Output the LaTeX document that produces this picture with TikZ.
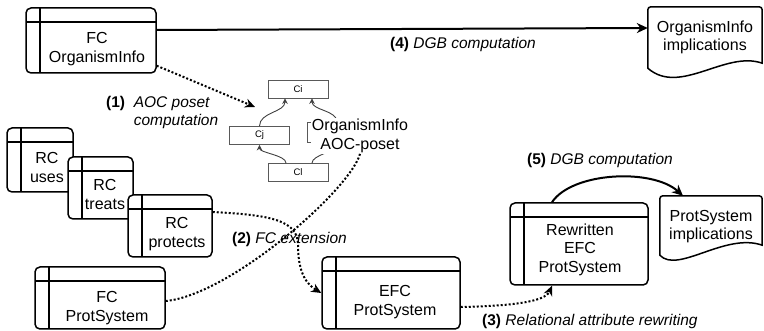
\documentclass[tikz,border=0pt]{standalone}
\usepackage{fontspec}
\setmainfont{Liberation Sans}
\usetikzlibrary{arrows.meta}
\begin{document}
\begin{tikzpicture}[x=1pt,y=-1pt,
  every node/.style={font=\fontsize{16}{18.5}\selectfont},
  store/.style={draw, line width=1.5pt, rounded corners=5pt, fill=white, inner sep=0pt,
    path picture={
      \draw[line width=1.5pt] ([yshift=-14pt]path picture bounding box.north west) -- ([yshift=-14pt]path picture bounding box.north east);
      \draw[line width=1.5pt] ([xshift=14pt]path picture bounding box.north west) -- ([xshift=14pt]path picture bounding box.south west);
    }},
  boxtxt/.style={align=center, inner sep=0pt},
  docnode/.style={align=center, inner sep=0pt},
  docshape/.style={draw, line width=1.5pt},
  cbox/.style={draw=black!65, line width=0.9pt, fill=white, minimum width=60pt, minimum height=18pt, inner sep=0pt, font=\fontsize{9.5}{10}\selectfont},
  pedge/.style={draw=black!75, line width=0.9pt, -{Stealth[length=5.5pt,width=5.5pt]}},
  dotline/.style={line width=2pt, dash pattern=on 2pt off 2pt},
  dotarrow/.style={dotline, -{Stealth[length=10pt,width=9pt]}},
  solidarrow/.style={line width=2pt, -{Stealth[length=11pt,width=10pt]}},
  lbl/.style={font=\fontsize{15.5}{18}\selectfont, inner sep=0pt}
]
\useasboundingbox (0,0) rectangle (764,331);

% storage boxes
\node[store, minimum width=130pt, minimum height=65pt] (fcoi) at (91,40.5) {};
\node[boxtxt] (fcoit) at ([xshift=6pt,yshift=-8.5pt]fcoi.center) {FC\\OrganismInfo};

\node[store, minimum width=66pt, minimum height=64pt] (rcu) at (40,160) {};
\node[boxtxt] (rcut) at ([xshift=7pt,yshift=-7.5pt]rcu.center) {RC\\uses};

\node[store, minimum width=65pt, minimum height=62pt] (rct) at (100.5,188) {};
\node[boxtxt] (rctt) at ([xshift=4.5pt,yshift=-6.5pt]rct.center) {RC\\treats};

\node[store, minimum width=84pt, minimum height=62pt] (rcp) at (170,226) {};
\node[boxtxt] (rcpt) at ([xshift=7pt,yshift=-8pt]rcp.center) {RC\\protects};

\node[store, minimum width=130pt, minimum height=62pt] (fcp) at (100,298) {};
\node[boxtxt] (fcpt) at ([xshift=7pt,yshift=-10pt]fcp.center) {FC\\ProtSystem};

\node[store, minimum width=138pt, minimum height=72pt] (efc) at (391,293) {};
\node[boxtxt] (efct) at ([xshift=4pt,yshift=-9pt]efc.center) {EFC\\ProtSystem};

\node[store, minimum width=138pt, minimum height=82pt] (rew) at (579,244) {};
\node[boxtxt] (rewt) at ([xshift=1pt,yshift=-5.5pt]rew.center) {Rewritten\\EFC\\ProtSystem};

% document shapes
\node[docnode, minimum width=114pt, minimum height=61pt] (oiimp) at (705,37.5) {OrganismInfo\\implications};
\draw[docshape] (oiimp.south west) [rounded corners=3pt] -- (oiimp.north west) -- (oiimp.north east) [sharp corners] -- ([yshift=5pt]oiimp.south east)
  .. controls ([xshift=-37pt,yshift=18pt]oiimp.south east) and ([xshift=32pt,yshift=-28pt]oiimp.south west) .. (oiimp.south west) -- cycle;

\node[docnode, minimum width=102pt, minimum height=61pt] (psimp) at (711,226.5) {ProtSystem\\implications};
\draw[docshape] ([yshift=2pt]psimp.south west) [rounded corners=3pt] -- (psimp.north west) -- (psimp.north east) [sharp corners] -- ([yshift=12pt]psimp.south east)
  .. controls ([xshift=-37pt,yshift=25pt]psimp.south east) and ([xshift=18pt,yshift=-17pt]psimp.south west) .. ([yshift=2pt]psimp.south west) -- cycle;

% AOC poset
\node[cbox] (ci) at (298,89) {Ci};
\node[cbox] (cj) at (259.5,135.5) {Cj};
\node[cbox] (cl) at (298,172.5) {Cl};
\node[cbox, minimum height=20pt] (ck) at (337,132.5) {};
\draw[pedge] (cj.north) .. controls +(0,-14) and +(0,14) .. ([xshift=-13pt]ci.south);
\draw[pedge] (ck.north) .. controls +(0,-12) and +(0,12) .. ([xshift=14pt]ci.south);
\draw[pedge] ([xshift=-12pt]cl.north) .. controls +(0,-8) and +(0,8) .. (cj.south);
\draw[pedge] ([xshift=14pt]cl.north) .. controls +(0,-8) and +(0,8) .. (ck.south);
\node[fill=white, align=center, inner sep=1pt] (aoclbl) at (360,136) {OrganismInfo\\AOC-poset};

% connectors
\coordinate (aoctip) at (255,107);
\draw[dotarrow] ([yshift=8pt]fcoi.south east) -- (aoctip);
\draw[solidarrow] ([yshift=10.5pt]fcoi.east) -- ([yshift=9.5pt]oiimp.west);
\draw[dotarrow] ([yshift=14pt]rcp.east) .. controls (270,215) and (298,220) .. (298,245)
  .. controls (298,275) and (308,285) .. (efc.west);
\draw[dotline] ([yshift=-3pt]fcp.east) .. controls (230,295) and (350,190) .. (aoclbl.south);
\draw[dotarrow] ([yshift=-14pt]efc.east) .. controls (510,306) and (545,302) .. ([xshift=-27pt]rew.south);
\draw[solidarrow] ([xshift=-27pt]rew.north) .. controls (572,172) and (652,168) .. ([xshift=-28pt]psimp.north);

% labels
\node[lbl, anchor=base west] (l4) at (390,48.5) {\textbf{(4)}\ \textit{DGB computation}};
\node[lbl, anchor=base west] (l1) at (106,107.5) {\textbf{(1)}\ \ \begin{tabular}[t]{@{}l@{}}\textit{AOC poset}\\\textit{computation}\end{tabular}};
\node[lbl, anchor=base west] (l2) at (232,243.5) {\textbf{(2)}\ \textit{FC extension}};
\node[lbl, anchor=base west] (l3) at (482,325.5) {\textbf{(3)}\ \textit{Relational attribute rewriting}};
\node[lbl, anchor=base west] (l5) at (527,164.5) {\textbf{(5)}\ \textit{DGB computation}};
\end{tikzpicture}
\end{document}
